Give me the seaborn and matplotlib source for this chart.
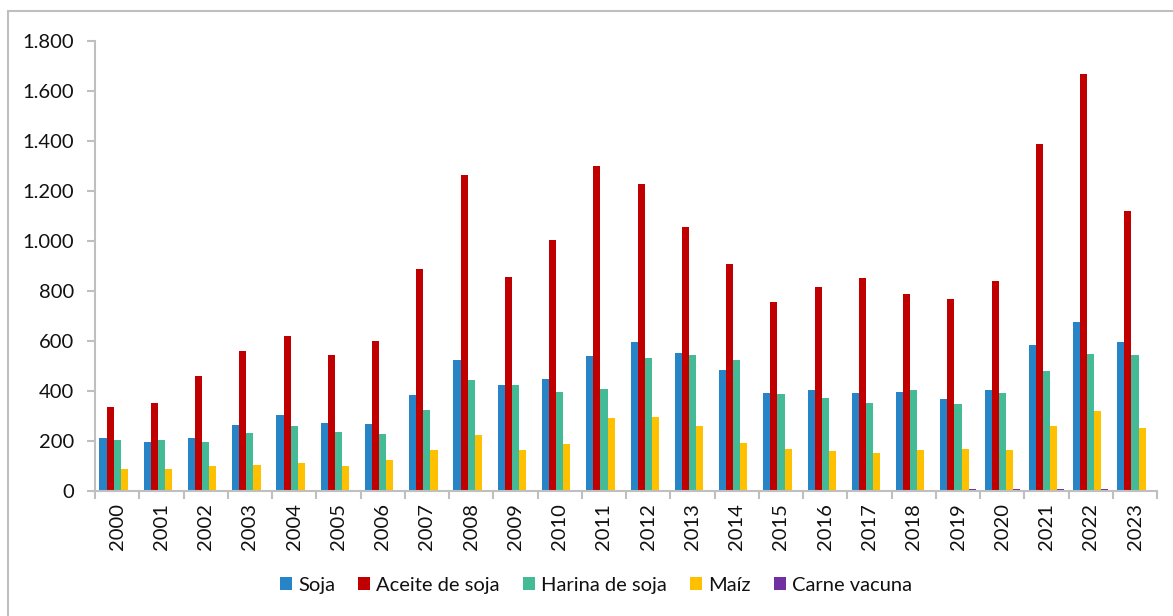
import seaborn as sns
import pandas as pd
import matplotlib.pyplot as plt
from matplotlib.patches import Rectangle
from matplotlib.ticker import FuncFormatter, FixedLocator

years = [str(y) for y in range(2000, 2024)]

soja = [212, 194, 211, 262, 304, 272, 266, 382, 522, 422, 446, 538, 595, 550,
        484, 390, 404, 392, 395, 368, 404, 582, 674, 596]
aceite = [336, 351, 460, 559, 618, 543, 599, 886, 1262, 854, 1002, 1299, 1227, 1055,
          906, 754, 814, 850, 788, 766, 838, 1386, 1668, 1119]
harina = [202, 202, 194, 231, 258, 236, 226, 322, 443, 422, 396, 407, 531, 543,
          522, 387, 372, 350, 404, 346, 392, 479, 547, 542]
maiz = [87, 87, 98, 103, 110, 98, 121, 162, 222, 163, 186, 290, 295, 259,
        191, 167, 158, 152, 163, 167, 163, 258, 318, 251]
carne = [1, 1, 1, 1, 2, 2, 2, 3, 3, 3, 3, 3, 3, 3,
         4, 4, 4, 4, 4, 6, 5, 5, 5, 4]

series = {
    "Soja": soja,
    "Aceite de soja": aceite,
    "Harina de soja": harina,
    "Maíz": maiz,
    "Carne vacuna": carne,
}
colors = ["#2784C7", "#C00000", "#45BA96", "#FFC000", "#7030A0"]

df = pd.DataFrame(
    [(y, name, v) for name, vals in series.items() for y, v in zip(years, vals)],
    columns=["year", "producto", "valor"],
)

sns.set_style("white")
plt.rcParams["font.family"] = ["Lato", "DejaVu Sans"]

fig = plt.figure(figsize=(11.73, 6.16), dpi=100)
ax = fig.add_axes([0.081, 0.2034, 0.9055, 0.7306])

sns.barplot(data=df, x="year", y="valor", hue="producto", palette=colors,
            width=0.8, gap=0, saturation=1, linewidth=0, ax=ax, legend=True)

ax.set_xlim(-0.5, len(years) - 0.5)
ax.set_ylim(0, 1800)
ax.set_yticks(range(0, 1801, 200))
ax.yaxis.set_major_formatter(FuncFormatter(lambda v, p: f"{int(v):,}".replace(",", ".")))
ax.set_xlabel("")
ax.set_ylabel("")

grey = "#BFBFBF"
for side in ["top", "right"]:
    ax.spines[side].set_visible(False)
for side in ["left", "bottom"]:
    ax.spines[side].set_color(grey)
    ax.spines[side].set_linewidth(1.5)

ax.tick_params(axis="y", which="major", length=6, width=1.5, color=grey,
               labelsize=14.5, labelcolor="#111111", pad=9, left=True, direction="out")
ax.tick_params(axis="x", which="major", length=0, labelsize=14.5, labelcolor="#111111",
               rotation=90, pad=9)
ax.xaxis.set_minor_locator(FixedLocator([i - 0.5 for i in range(len(years) + 1)]))
ax.tick_params(axis="x", which="minor", length=6, width=1.5, color=grey,
               bottom=True, direction="out")

handles, labels = ax.get_legend_handles_labels()
ax.legend(handles, labels, loc="center", bbox_to_anchor=(0.508, 0.05),
          bbox_transform=fig.transFigure, ncol=5, frameon=False, fontsize=14.5,
          labelcolor="#111111", handlelength=0.6, handleheight=0.6,
          handletextpad=0.3, columnspacing=1.15)

fig.patches.append(Rectangle((8 / 1173, -0.05), 1.2, 1 - 11 / 616 + 0.05,
                             transform=fig.transFigure, fill=False,
                             edgecolor=grey, linewidth=1.5))

fig.savefig("out.png", dpi=100)
